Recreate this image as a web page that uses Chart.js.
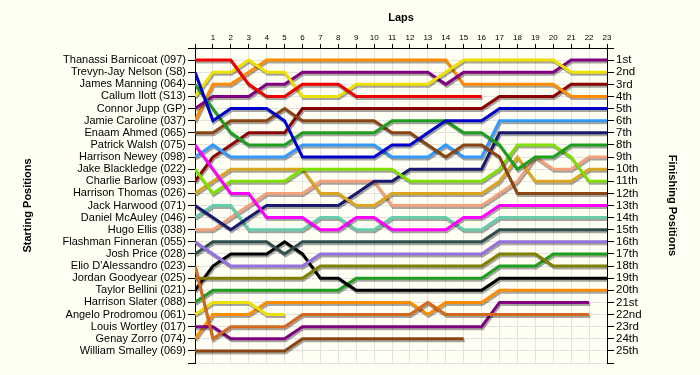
<!DOCTYPE html>
<html>
<head>
<meta charset="utf-8">
<script src="https://cdn.jsdelivr.net/npm/chart.js@4"></script>
<style>
  html, body { margin: 0; padding: 0; background: #FFFFF4; }
  canvas { display: block; }
</style>
</head>
<body>
<canvas id="lapChart" width="700" height="375"></canvas>
<script>
// Laps (0 = starting grid)
const laps = [0,1,2,3,4,5,6,7,8,9,10,11,12,13,14,15,16,17,18,19,20,21,22,23];

// Starting grid, in order
const startingDrivers = [
    'Thanassi Barnicoat (097)', 'Trevyn-Jay Nelson (S8)', 'James Manning (064)', 'Callum Ilott (S13)',
    'Connor Jupp (GP)', 'Jamie Caroline (037)', 'Enaam Ahmed (065)', 'Patrick Walsh (075)',
    'Harrison Newey (098)', 'Jake Blackledge (022)', 'Charlie Barlow (093)', 'Harrison Thomas (026)',
    'Jack Harwood (071)', 'Daniel McAuley (046)', 'Hugo Ellis (038)', 'Flashman Finneran (055)',
    'Josh Price (028)', "Elio D'Alessandro (023)", 'Jordan Goodyear (025)', 'Taylor Bellini (021)',
    'Harrison Slater (088)', 'Angelo Prodromou (061)', 'Louis Wortley (017)', 'Genay Zorro (074)',
    'William Smalley (069)'
];

const finishLabels = [
    '1st','2nd','3rd','4th','5th','6th','7th','8th','9th','10th','11th','12th','13th',
    '14th','15th','16th','17th','18th','19th','20th','21st','22nd','23rd','24th','25th'
];

// Position of each driver at every lap (null = retired)
const posBarnicoat   = [1,1,1,3,4,4,3,3,3,4,4,4,4,4,4,4,4,null,null,null,null,null,null,null];
const posNelson      = [2,6,5,5,5,6,9,9,9,9,9,8,8,7,6,6,6,5,5,5,5,5,5,5];
const posManning     = [3,5,7,8,8,8,7,7,7,7,7,6,6,6,6,7,7,8,10,9,9,8,8,8];
const posIlott       = [4,2,2,1,2,2,4,4,4,3,3,3,3,3,2,1,1,1,1,1,1,2,2,2];
const posJupp        = [5,4,4,4,3,3,2,2,2,2,2,2,2,2,3,2,2,2,2,2,2,1,1,1];
const posCaroline    = [6,3,3,2,1,1,1,1,1,1,1,1,1,1,1,3,3,3,3,3,3,4,4,4];
const posAhmed       = [7,7,6,6,6,5,6,6,6,6,6,7,7,8,9,8,8,9,12,12,12,12,12,12];
const posWalsh       = [8,10,12,12,14,14,14,15,15,14,14,15,15,15,15,14,14,13,13,13,13,13,13,13];
const posNewey       = [9,8,9,9,9,9,8,8,8,8,8,9,9,9,8,9,9,6,6,6,6,6,6,6];
const posBlackledge  = [10,12,11,11,11,11,10,10,10,10,10,10,11,11,11,11,11,10,8,8,8,9,11,11];
const posBarlow      = [11,9,8,7,7,7,5,5,5,5,5,5,5,5,5,5,5,4,4,4,4,3,3,3];
const posThomas      = [12,11,10,10,10,10,10,12,12,13,13,12,12,12,12,12,12,11,9,11,11,11,10,10];
const posHarwood     = [13,14,15,14,13,13,13,13,13,12,11,11,10,10,10,10,10,7,7,7,7,7,7,7];
const posMcAuley     = [14,13,13,15,15,15,15,14,14,15,15,14,14,14,14,15,15,14,14,14,14,14,14,14];
const posEllis       = [15,15,14,13,12,12,12,11,11,11,11,13,13,13,13,13,13,12,11,9,10,10,9,9];
const posFinneran    = [16,17,18,18,18,18,18,17,17,17,17,17,17,17,17,17,17,16,16,16,16,16,16,16];
const posPrice       = [17,16,16,16,16,17,16,16,16,16,16,16,16,16,16,16,16,15,15,15,15,15,15,15];
const posDAlessandro = [18,24,23,23,23,23,22,22,22,22,22,22,22,21,22,22,22,22,22,22,22,22,22,null];
const posGoodyear    = [19,19,19,19,19,19,19,18,18,18,18,18,18,18,18,18,18,17,17,17,18,18,18,18];
const posBellini     = [20,18,17,17,17,16,17,19,19,20,20,20,20,20,20,20,20,19,19,19,19,19,19,19];
const posSlater      = [21,20,20,20,20,20,20,20,20,19,19,19,19,19,19,19,19,18,18,18,17,17,17,17];
const posProdromou   = [22,21,21,21,22,22,null,null,null,null,null,null,null,null,null,null,null,null,null,null,null,null,null,null];
const posWortley     = [23,23,24,24,24,24,23,23,23,23,23,23,23,23,23,23,23,21,21,21,21,21,21,null];
const posZorro       = [24,22,22,22,21,21,21,21,21,21,21,21,21,22,21,21,21,20,20,20,20,20,20,20];
const posSmalley     = [25,25,25,25,25,25,24,24,24,24,24,24,24,24,24,24,null,null,null,null,null,null,null,null];

const driverPositions = [
    posBarnicoat, posNelson, posManning, posIlott, posJupp, posCaroline, posAhmed, posWalsh,
    posNewey, posBlackledge, posBarlow, posThomas, posHarwood, posMcAuley, posEllis, posFinneran,
    posPrice, posDAlessandro, posGoodyear, posBellini, posSlater, posProdromou, posWortley, posZorro,
    posSmalley
];

const lineColors = [
    '#EE0000', '#0000CC', '#1E9E1E', '#EEE000', '#800080', '#FF8C00', '#8B4513', '#FF00FF',
    '#3399FF', '#7FE000', '#8B0000', '#DAA520', '#191970', '#66CDAA', '#F4A07A', '#9370DB',
    '#2F4F4F', '#D2691E', '#808000', '#000000', '#1E9E1E', '#EEE000', '#800080', '#FF8C00',
    '#8B4513'
];

// gray drop shadow under each line, like the original
const lineShadow = {
    id: 'lineShadow',
    beforeDatasetDraw(chart) {
        const ctx = chart.ctx;
        ctx.save();
        ctx.shadowColor = 'rgba(0,0,0,0.35)';
        ctx.shadowOffsetX = 1;
        ctx.shadowOffsetY = 2;
        ctx.shadowBlur = 0;
    },
    afterDatasetDraw(chart) {
        chart.ctx.restore();
    }
};

const font = "'Liberation Sans', Arial, sans-serif";
Chart.defaults.font.family = font;
Chart.defaults.color = '#000';

const datasets = driverPositions.map((pos, i) => ({
    label: startingDrivers[i],
    data: laps.map((lap, j) => ({ x: lap, y: pos[j] })),
    borderColor: lineColors[i],
    borderWidth: 3,
    pointRadius: 0,
    tension: 0,
    spanGaps: false,
    fill: false
}));

new Chart(document.getElementById('lapChart'), {
    type: 'line',
    data: { datasets },
    plugins: [lineShadow],
    options: {
        responsive: false,
        animation: false,
        layout: { padding: { left: 0, right: 0, top: 0, bottom: 12 } },
        plugins: { legend: { display: false }, tooltip: { enabled: false } },
        scales: {
            x: {
                type: 'linear',
                position: 'top',
                min: 0, max: 23,
                afterFit: (s) => { s.height = 48; },
                ticks: {
                    stepSize: 1, autoSkip: false, maxRotation: 0, padding: 1,
                    font: { size: 8 },
                    callback: (v) => v === 0 ? '' : v
                },
                grid: { color: '#E2E2E2', tickColor: '#000', tickLength: 4 },
                border: { color: '#000', width: 1 },
                title: { display: true, text: 'Laps', font: { size: 11, weight: 'bold' }, padding: { top: 11, bottom: 0 } }
            },
            y: {
                type: 'linear',
                position: 'left',
                reverse: true,
                min: 0, max: 26,
                afterFit: (s) => { s.width = 195; },
                ticks: {
                    stepSize: 1, autoSkip: false, padding: 2,
                    font: { size: 11, lineHeight: 1 },
                    callback: (v) => startingDrivers[v - 1] || ''
                },
                grid: { color: '#E2E2E2', tickColor: '#000', tickLength: 7 },
                border: { color: '#000', width: 1 },
                title: { display: true, text: 'Starting Positions', font: { size: 11, weight: 'bold' }, padding: { top: 21, bottom: 0 } }
            },
            y2: {
                type: 'linear',
                position: 'right',
                reverse: true,
                min: 0, max: 26,
                afterFit: (s) => { s.width = 93; },
                ticks: {
                    stepSize: 1, autoSkip: false, padding: 2,
                    font: { size: 11.5, lineHeight: 1 },
                    callback: (v) => finishLabels[v - 1] || ''
                },
                grid: { drawOnChartArea: false, tickColor: '#000', tickLength: 7 },
                border: { color: '#000', width: 1 },
                title: { display: true, text: 'Finishing Positions', font: { size: 11, weight: 'bold' }, padding: { top: 21, bottom: 0 } }
            }
        }
    }
});
</script>
</body>
</html>
